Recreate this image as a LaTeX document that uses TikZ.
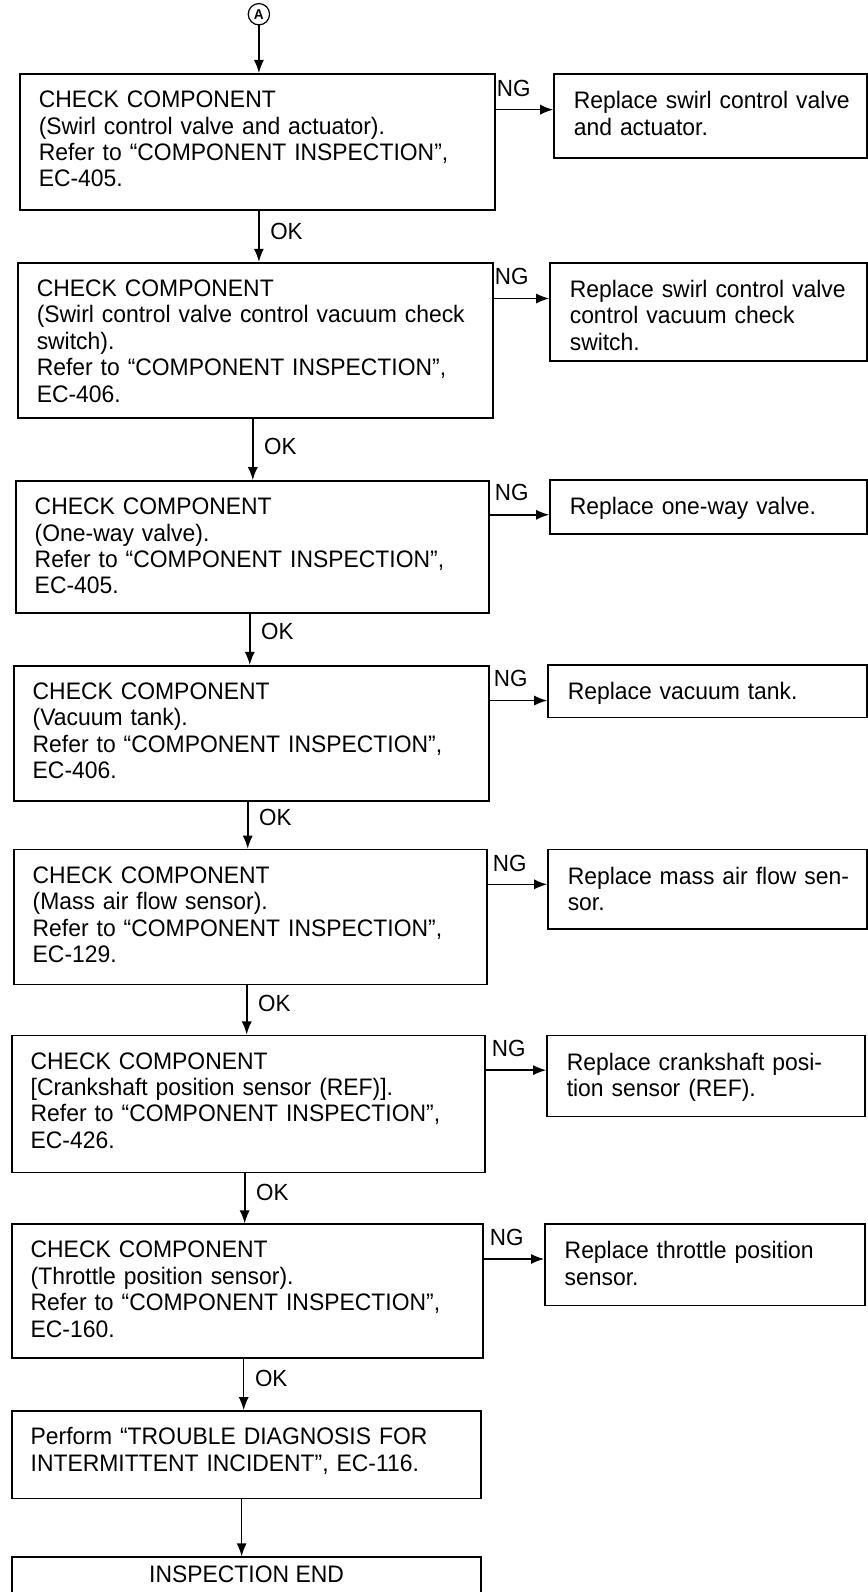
\documentclass[tikz,border=0pt]{standalone}
\usepackage{fontspec}
\setmainfont{Liberation Sans}[FakeStretch=0.96]
\usetikzlibrary{arrows.meta,calc}
\begin{document}
\begin{tikzpicture}[x=1pt,y=-1pt,
  box/.style={draw,line width=1.6pt,inner sep=0pt,anchor=north west},
  txt/.style={anchor=base west,inner sep=0pt,text width=#1,align=left,
    font=\fontsize{23.5}{26}\selectfont},
  txt/.default=445pt,
  lbl/.style={inner sep=0pt,font=\fontsize{23}{26}\selectfont},
  arr/.style={line width=1.6pt,-{Latex[length=13pt,width=10pt]}}]
\useasboundingbox (0,0) rectangle (854,1568);

% start connector
\node[draw,circle,line width=1.2pt,inner sep=0pt,minimum size=21pt,
  font=\fontsize{14}{14}\selectfont\bfseries] (A) at (255,14) {A};

% left column boxes
\node[box,minimum width=468pt,minimum height=134pt] (b1) at (19,72) {};
\node[box,minimum width=468pt,minimum height=153pt] (b2) at (17,258) {};
\node[box,minimum width=466pt,minimum height=130pt] (b3) at (15,473) {};
\node[box,minimum width=468pt,minimum height=133pt] (b4) at (13,655) {};
\node[box,minimum width=466pt,minimum height=133pt] (b5) at (13,836) {};
\node[box,minimum width=466pt,minimum height=135pt] (b6) at (11,1019) {};
\node[box,minimum width=464pt,minimum height=132pt] (b7) at (11,1205) {};
\node[box,minimum width=462pt,minimum height=86pt] (b8) at (11,1389) {};
\node[box,minimum width=462pt,minimum height=36pt] (b9) at (11,1533) {};

% right column boxes
\node[box,minimum width=308pt,minimum height=83pt] (r1) at (545,72) {};
\node[box,minimum width=312pt,minimum height=97pt] (r2) at (541,258) {};
\node[box,minimum width=312pt,minimum height=53pt] (r3) at (541,472) {};
\node[box,minimum width=314pt,minimum height=52pt] (r4) at (539,654) {};
\node[box,minimum width=314pt,minimum height=78pt] (r5) at (539,836) {};
\node[box,minimum width=313pt,minimum height=80pt] (r6) at (538,1019) {};
\node[box,minimum width=315pt,minimum height=80pt] (r7) at (536,1205) {};

% texts in left boxes
\node[txt] (t1) at ($(b1.north west)+(19,34)$) {CHECK COMPONENT\\(Swirl control valve and actuator).\\Refer to “COMPONENT INSPECTION”,\\EC-405.};
\node[txt] (t2) at ($(b2.north west)+(19,34)$) {CHECK COMPONENT\\(Swirl control valve control vacuum check\\switch).\\Refer to “COMPONENT INSPECTION”,\\EC-406.};
\node[txt] (t3) at ($(b3.north west)+(19,34)$) {CHECK COMPONENT\\(One-way valve).\\Refer to “COMPONENT INSPECTION”,\\EC-405.};
\node[txt] (t4) at ($(b4.north west)+(19,34)$) {CHECK COMPONENT\\(Vacuum tank).\\Refer to “COMPONENT INSPECTION”,\\EC-406.};
\node[txt] (t5) at ($(b5.north west)+(19,34)$) {CHECK COMPONENT\\(Mass air flow sensor).\\Refer to “COMPONENT INSPECTION”,\\EC-129.};
\node[txt] (t6) at ($(b6.north west)+(19,34)$) {CHECK COMPONENT\\{[}Crankshaft position sensor (REF){]}.\\Refer to “COMPONENT INSPECTION”,\\EC-426.};
\node[txt] (t7) at ($(b7.north west)+(19,34)$) {CHECK COMPONENT\\(Throttle position sensor).\\Refer to “COMPONENT INSPECTION”,\\EC-160.};
\node[txt] (t8) at ($(b8.north west)+(19,34)$) {Perform “TROUBLE DIAGNOSIS FOR\\INTERMITTENT INCIDENT”, EC-116.};
\node[inner sep=0pt,font=\fontsize{23.5}{26}\selectfont] (t9) at ($(b9.north)+(0,18)$) {INSPECTION END};

% texts in right boxes
\node[txt=305pt] (s1) at ($(r1.north west)+(20,35)$) {Replace swirl control valve\\and actuator.};
\node[txt=305pt] (s2) at ($(r2.north west)+(20,35)$) {Replace swirl control valve\\control vacuum check\\switch.};
\node[txt=305pt] (s3) at ($(r3.north west)+(20,35)$) {Replace one-way valve.};
\node[txt=305pt] (s4) at ($(r4.north west)+(20,35)$) {Replace vacuum tank.};
\node[txt=305pt] (s5) at ($(r5.north west)+(20,35)$) {Replace mass air flow sen-\\sor.};
\node[txt=305pt] (s6) at ($(r6.north west)+(20,35)$) {Replace crankshaft posi-\\tion sensor (REF).};
\node[txt=305pt] (s7) at ($(r7.north west)+(20,35)$) {Replace throttle position\\sensor.};

% OK connectors
\draw[arr] (A.south) -- (b1.north -| 255,0);
\draw[arr] (b1.south -| 255,0) -- (b2.north -| 255,0);
\draw[arr] (b2.south -| 249,0) -- (b3.north -| 249,0);
\draw[arr] (b3.south -| 246,0) -- (b4.north -| 246,0);
\draw[arr] (b4.south -| 244,0) -- (b5.north -| 244,0);
\draw[arr] (b5.south -| 243,0) -- (b6.north -| 243,0);
\draw[arr] (b6.south -| 241,0) -- (b7.north -| 241,0);
\draw[arr] (b7.south -| 240,0) -- (b8.north -| 240,0);
\draw[arr] (b8.south -| 238,0) -- (b9.north -| 238,0);

\node[lbl,anchor=west] (ok1) at (266,228) {OK};
\node[lbl,anchor=west] (ok2) at (260,440) {OK};
\node[lbl,anchor=west] (ok3) at (257,622) {OK};
\node[lbl,anchor=west] (ok4) at (255,805) {OK};
\node[lbl,anchor=west] (ok5) at (254,988) {OK};
\node[lbl,anchor=west] (ok6) at (252,1174) {OK};
\node[lbl,anchor=west] (ok7) at (251,1358) {OK};

% NG connectors
\draw[arr] (b1.east |- 0,108) -- (r1.west |- 0,108);
\draw[arr] (b2.east |- 0,294) -- (r2.west |- 0,294);
\draw[arr] (b3.east |- 0,507) -- (r3.west |- 0,507);
\draw[arr] (b4.east |- 0,690) -- (r4.west |- 0,690);
\draw[arr] (b5.east |- 0,871) -- (r5.west |- 0,871);
\draw[arr] (b6.east |- 0,1054) -- (r6.west |- 0,1054);
\draw[arr] (b7.east |- 0,1240) -- (r7.west |- 0,1240);

\node[lbl] (ng1) at (506,87) {NG};
\node[lbl] (ng2) at (504,272) {NG};
\node[lbl] (ng3) at (504,485) {NG};
\node[lbl] (ng4) at (503,668) {NG};
\node[lbl] (ng5) at (502,850) {NG};
\node[lbl] (ng6) at (501,1033) {NG};
\node[lbl] (ng7) at (499,1219) {NG};
\end{tikzpicture}
\end{document}
